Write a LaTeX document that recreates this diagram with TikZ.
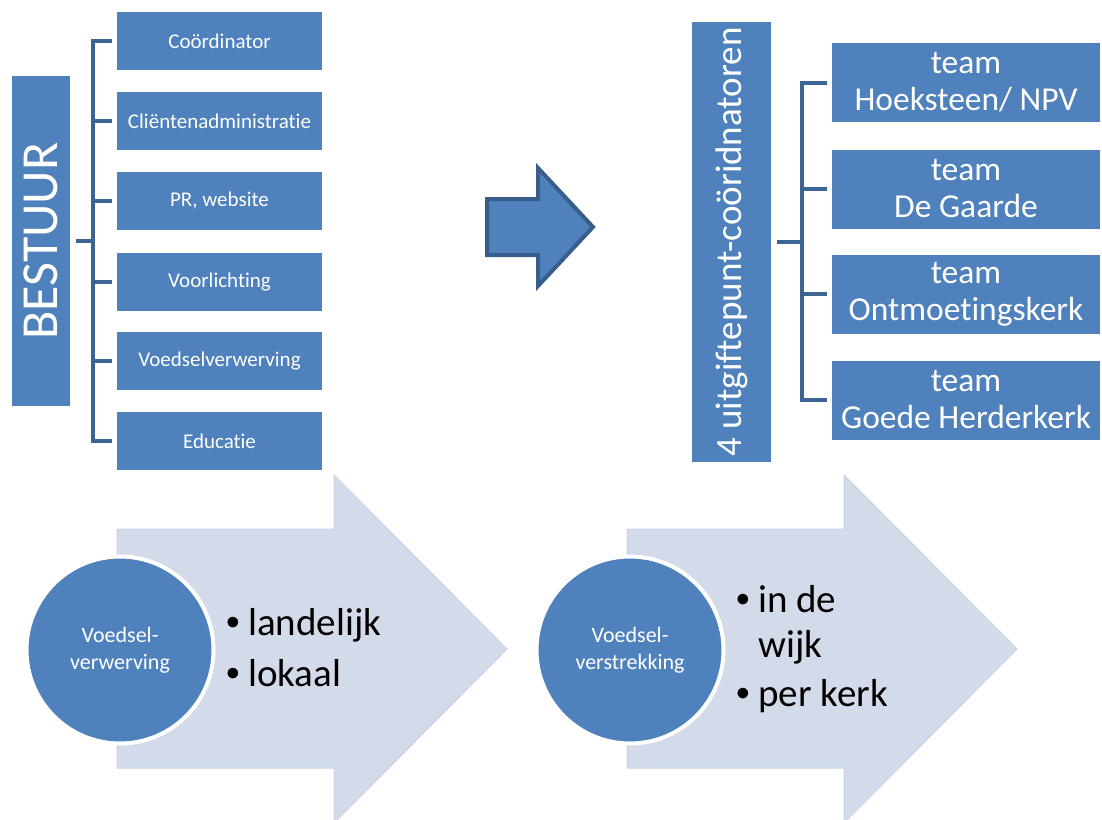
\documentclass[tikz,border=0pt]{standalone}
\usepackage{fontspec}
\setmainfont{Carlito}[RawFeature={-liga;-clig;-calt}]
\newfontfamily\bulfont{Liberation Sans}
\usetikzlibrary{positioning}

\definecolor{boxblue}{HTML}{4F81BD}
\definecolor{lineblue}{HTML}{3C6494}
\definecolor{edgeblue}{HTML}{385D8A}
\definecolor{paleblue}{HTML}{D3DBEA}
\definecolor{paleedge}{HTML}{C9D3E7}

\newcommand{\fs}[2]{\fontsize{#1}{#2}\selectfont}
\newcommand{\bul}{\makebox[22pt][l]{\bulfont •}}

\begin{document}
\begin{tikzpicture}[x=1pt,y=-1pt,
brk/.style={draw=lineblue,line width=4pt},
every node/.style={inner sep=0pt}]
\tikzstyle{kl} = [fill=boxblue,text=white,minimum width=205pt,minimum height=58pt,font=\fs{21}{25}]
\tikzstyle{KL} = [fill=boxblue,text=white,rotate=90]
\tikzstyle{team} = [fill=boxblue,text=white,minimum width=268pt,minimum height=79pt,align=center,font=\fs{33.5}{37}]
\tikzstyle{rond} = [circle,fill=boxblue,draw=white,line width=4pt,minimum size=187pt,text=white,align=center,font=\fs{22}{27}]
\tikzstyle{pijl} = [fill=paleblue,draw=paleedge,line width=1pt]

\useasboundingbox (0,0) rectangle (1102,819);
\clip (0,0) rectangle (1102,819);

% onderste pijlen
\foreach \dx in {0,510}{
	\draw[pijl] (117+\dx,529) -- (334+\dx,529) -- (334+\dx,475) -- (507+\dx,649)
	-- (334+\dx,823) -- (334+\dx,768) -- (117+\dx,768) -- cycle;
}

\node[rond](verw) at (120,650){Voedsel-\\verwerving};
\node[rond](verstr) at (630,650){Voedsel-\\verstrekking};

\node[anchor=base west,align=left,font=\fs{39}{45}](lijst1) at (226,686){\bul landelijk\\[6pt]\bul lokaal};
\node[anchor=base west,align=left,font=\fs{39}{45}](lijst2) at (736,706){\bul in de\\\hspace*{22pt}wijk\\[4pt]\bul per kerk};

% bestuur
\node[KL,minimum width=330pt,minimum height=58pt,font=\fs{52}{60}](bestuur) at (41,241){BESTUUR};

\foreach \y/\t [count=\i] in {41/Coördinator,121/Cliëntenadministratie,201/{PR, website},
	282/Voorlichting,361/Voedselverwerving,441/Educatie}
	\node[kl](c\i) at (219.5,\y){\t};

\draw[brk] ([xshift=-5pt]c1.west) -- ++(-19,0) |- ([xshift=-5pt]c6.west);
\foreach \i in {2,...,5}
	\draw[brk] ([xshift=-5pt]c\i.west) -- ++(-19,0);
\draw[brk] ([xshift=6pt]bestuur.south) -- ++(17,0);

% pijl naar rechts
\draw[fill=boxblue,draw=edgeblue,line width=4pt] (487,199) -- (538,199) -- (538,168) -- (593,227)
-- (538,286) -- (538,255) -- (487,255) -- cycle;

% uitgiftepunten
\node[KL,minimum width=440pt,minimum height=79pt,font=\fs{37}{44}](uitgifte) at (731.5,242){4 uitgiftepunt-coöridnatoren};

\foreach \y/\t [count=\i] in {82.5/{Hoeksteen/ NPV},189/De Gaarde,294/Ontmoetingskerk,400/Goede Herderkerk}
	\node[team](t\i) at (966,\y){team\\\t};

\draw[brk] ([xshift=-5pt]t1.west) -- ++(-25,0) |- ([xshift=-5pt]t4.west);
\foreach \i in {2,3}
	\draw[brk] ([xshift=-5pt]t\i.west) -- ++(-25,0);
\draw[brk] ([xshift=6pt]uitgifte.south) -- ++(25,0);

\end{tikzpicture}
\end{document}
